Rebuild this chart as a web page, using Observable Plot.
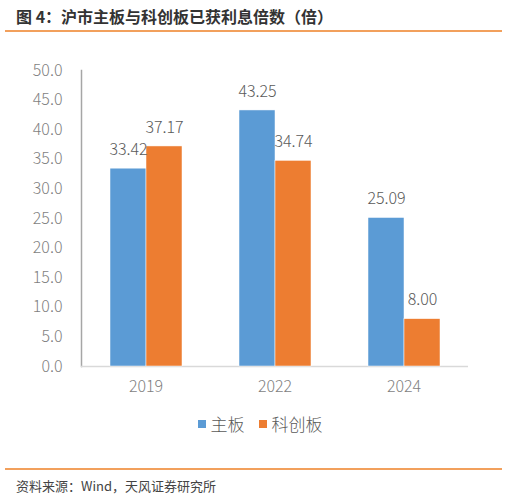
<!DOCTYPE html>
<html>
<head>
<meta charset="utf-8">
<script src="https://cdn.jsdelivr.net/npm/d3@7"></script>
<script src="https://cdn.jsdelivr.net/npm/@observablehq/plot@0.6"></script>
<style>
  body { margin: 0; background: #fff; font-family: "Noto Sans CJK SC", "Noto Sans", sans-serif; }
  #page { position: relative; width: 508px; height: 499px; overflow: hidden; }
  #title { position: absolute; left: 16px; top: 5px; font-size: 16px; font-weight: bold; color: #333; line-height: 22px; }
  .rule { position: absolute; left: 5px; width: 497px; background: #f2a05c; }
  #chart { position: absolute; left: 0; top: 40px; }
  #legend { position: absolute; left: 6px; width: 508px; top: 411px; display: flex; justify-content: center; gap: 14px; font-size: 17px; color: #595959; font-weight: 300; }
  #legend span.sw { display: inline-block; width: 8px; height: 8px; margin-right: 5px; vertical-align: middle; position: relative; top: -2px; }
  #source { position: absolute; left: 16px; top: 477px; font-size: 13px; color: #444; line-height: 18px; }
</style>
</head>
<body>
<div id="page">
  <div id="title">图 4：沪市主板与科创板已获利息倍数（倍）</div>
  <div class="rule" style="top:30px;height:2px"></div>
  <div id="chart"></div>
  <div id="legend"></div>
  <div class="rule" style="top:468px;height:1.5px"></div>
  <div id="source">资料来源：Wind，天风证券研究所</div>
</div>
<script>
const years = ["2019", "2022", "2024"]
const series = ["主板", "科创板"]
const mainBoard = [33.42, 43.25, 25.09]
const starMarket = [37.17, 34.74, 8.00]
const yTicks = [0, 5, 10, 15, 20, 25, 30, 35, 40, 45, 50]
const colors = ["#5b9bd5", "#ed7d31"]

// una fila por año y serie
const data = years.flatMap((year, i) => [
  {year, series: series[0], value: mainBoard[i]},
  {year, series: series[1], value: starMarket[i]}
])

const chart = Plot.plot({
  width: 508,
  height: 360,
  marginLeft: 80,
  marginRight: 40,
  marginTop: 30,
  marginBottom: 34,
  style: {fontFamily: '"Noto Sans CJK SC", sans-serif', fontSize: "16px", fontWeight: 300, color: "#7f7f7f", background: "transparent"},
  fx: {domain: years, padding: 0, axis: "bottom", tickSize: 0, tickPadding: 14, label: null},
  x: {domain: series, axis: null, paddingInner: 0, paddingOuter: 0.75},
  y: {domain: [0, 50], ticks: yTicks, tickFormat: d => d.toFixed(1), tickSize: 0, tickPadding: 19, label: null, line: true},
  color: {domain: series, range: colors},
  marks: [
    Plot.ruleY([0], {stroke: "#d9d9d9", strokeWidth: 1.5}),
    Plot.barY(data, {fx: "year", x: "series", y: "value", fill: "series", stroke: "#fff", strokeWidth: 0.5}),
    Plot.text(data, {fx: "year", x: "series", y: "value", text: d => d.value.toFixed(2), dy: -19, fill: "#595959"})
  ]
})

d3.select("#chart").append(() => chart)
// línea del eje y (la dibuja Plot como "frame")
d3.select(chart).selectAll('g[aria-label="frame"], g[aria-label="frame"] *').attr("stroke", "#a6a6a6").attr("stroke-width", 1.5)

// leyenda
const legend = d3.select("#legend").selectAll("div").data(series).join("div")
legend.append("span").attr("class", "sw").style("background", (d, i) => colors[i])
legend.append("span").text(d => d)
</script>
</body>
</html>
